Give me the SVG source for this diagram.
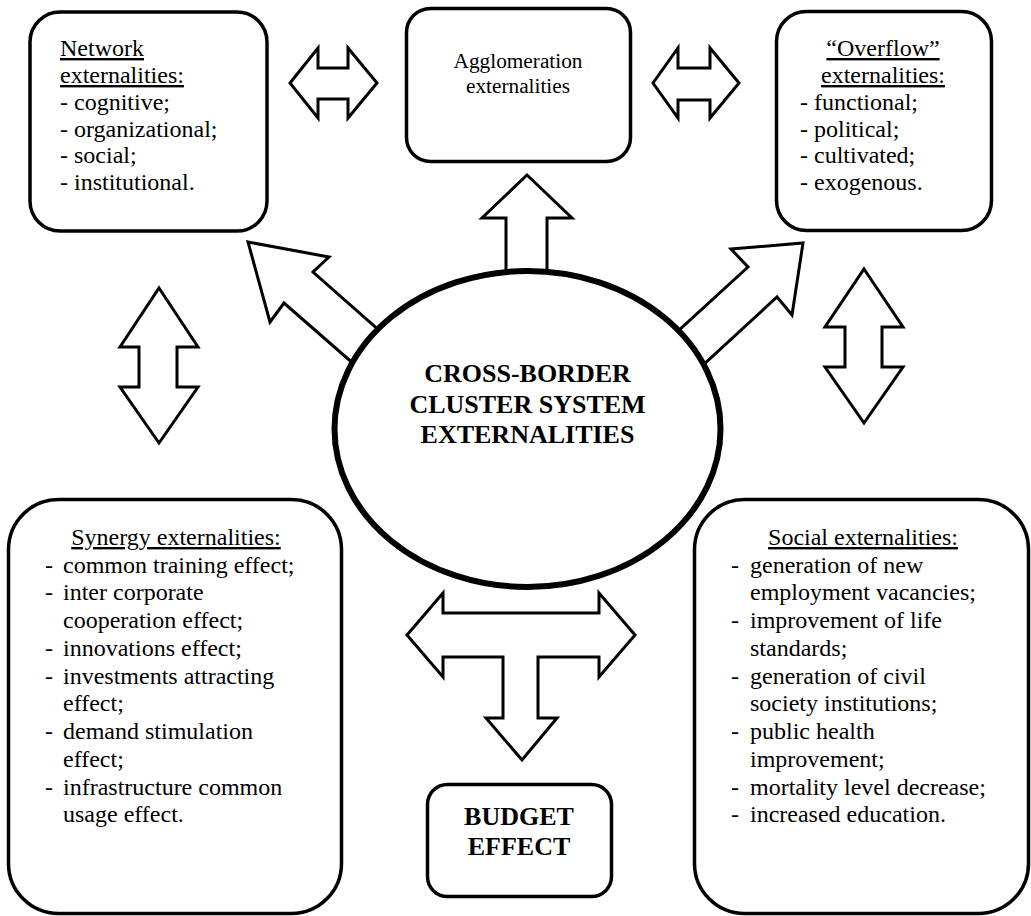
<svg xmlns="http://www.w3.org/2000/svg" width="1031" height="916" viewBox="0 0 1031 916">
<style>
text{font-family:"Liberation Serif","Times New Roman",serif;fill:#000}
.t{font-size:24px}
.a{font-size:21.3px}
.b{font-size:26px;font-weight:bold}
.u{text-decoration:underline}
.box{fill:#fff;stroke:#000;stroke-width:3.5}
.arr{fill:#fff;stroke:#000;stroke-width:3;stroke-linejoin:miter}
</style>
<rect width="1031" height="916" fill="#fff"/>
<g id="connectors">
<polygon class="arr" points="290,83 318,48 318,68 348,68 348,48 377,83 348,118 348,99 318,99 318,118"/>
<polygon class="arr" points="653,83 678,48 678,68 710,68 710,48 739,83 710,118 710,100 678,100 678,118"/>
<polygon class="arr" points="527,175 572,218 547,218 547,285 506,285 506,218 482,218"/>
<polygon class="arr" points="248,242 329,257 313,272 382,333 355,365 284,303 270,322"/>
<polygon class="arr" points="803,243 792,315 777,297 703,365 676,333 748,267 731,249"/>
<polygon class="arr" points="159,288 198,347 177,347 177,387 198,387 159,443 120,387 139,387 139,347 120,347"/>
<polygon class="arr" points="864,269 903,327 882,327 882,367 903,367 864,423 825,367 845,367 845,327 825,327"/>
<polygon class="arr" points="407,635 443,593 443,613 599,613 599,593 635,635 599,677 599,657 538,657 538,718 557,718 522,760 486,718 503,718 503,657 443,657 443,677"/>
</g>
<g id="center">
<ellipse cx="527.5" cy="429" rx="193" ry="158" fill="#fff" stroke="#000" stroke-width="6"/>
<text class="b" text-anchor="middle" x="527.5" y="382">CROSS-BORDER</text>
<text class="b" text-anchor="middle" x="527.5" y="413">CLUSTER SYSTEM</text>
<text class="b" text-anchor="middle" x="527.5" y="443">EXTERNALITIES</text>
</g>
<g id="network">
<rect class="box" x="30" y="12" width="237" height="219" rx="30"/>
<text class="t u" x="60" y="56">Network</text>
<text class="t u" x="60" y="83">externalities:</text>
<text class="t" x="60" y="110">- cognitive;</text>
<text class="t" x="60" y="137">- organizational;</text>
<text class="t" x="60" y="163">- social;</text>
<text class="t" x="60" y="190">- institutional.</text>
</g>
<g id="agglomeration">
<rect class="box" x="406.5" y="8.5" width="224" height="153" rx="24"/>
<text class="a" text-anchor="middle" x="518" y="68">Agglomeration</text>
<text class="a" text-anchor="middle" x="518" y="93">externalities</text>
</g>
<g id="overflow">
<rect class="box" x="776.5" y="11.5" width="215" height="219" rx="30"/>
<text class="t u" text-anchor="middle" x="883" y="56">“Overflow”</text>
<text class="t u" text-anchor="middle" x="883" y="83">externalities:</text>
<text class="t" x="800" y="110">- functional;</text>
<text class="t" x="800" y="137">- political;</text>
<text class="t" x="800" y="163">- cultivated;</text>
<text class="t" x="800" y="190">- exogenous.</text>
</g>
<g id="synergy">
<rect class="box" x="8.5" y="499.5" width="333" height="414" rx="50"/>
<text class="t u" text-anchor="middle" x="176" y="545">Synergy externalities:</text>
<g class="t">
<text class="t" x="45" y="573">-</text><text class="t" x="63" y="573">common training effect;</text>
<text class="t" x="45" y="600">-</text><text class="t" x="63" y="600">inter corporate</text>
<text class="t" x="63" y="628">cooperation effect;</text>
<text class="t" x="45" y="656">-</text><text class="t" x="63" y="656">innovations effect;</text>
<text class="t" x="45" y="684">-</text><text class="t" x="63" y="684">investments attracting</text>
<text class="t" x="63" y="711">effect;</text>
<text class="t" x="45" y="739">-</text><text class="t" x="63" y="739">demand stimulation</text>
<text class="t" x="63" y="767">effect;</text>
<text class="t" x="45" y="795">-</text><text class="t" x="63" y="795">infrastructure common</text>
<text class="t" x="63" y="822">usage effect.</text>
</g>
</g>
<g id="social">
<rect class="box" x="694.5" y="499.5" width="334" height="414" rx="50"/>
<text class="t u" text-anchor="middle" x="863" y="545">Social externalities:</text>
<text class="t" x="731" y="573">-</text><text class="t" x="750" y="573">generation of new</text>
<text class="t" x="750" y="600">employment vacancies;</text>
<text class="t" x="731" y="628">-</text><text class="t" x="750" y="628">improvement of life</text>
<text class="t" x="750" y="656">standards;</text>
<text class="t" x="731" y="684">-</text><text class="t" x="750" y="684">generation of civil</text>
<text class="t" x="750" y="711">society institutions;</text>
<text class="t" x="731" y="739">-</text><text class="t" x="750" y="739">public health</text>
<text class="t" x="750" y="767">improvement;</text>
<text class="t" x="731" y="795">-</text><text class="t" x="750" y="795">mortality level decrease;</text>
<text class="t" x="731" y="822">-</text><text class="t" x="750" y="822">increased education.</text>
</g>
<g id="budget">
<rect class="box" x="427.5" y="784.5" width="184" height="112" rx="20"/>
<text class="b" text-anchor="middle" x="519" y="825">BUDGET</text>
<text class="b" text-anchor="middle" x="519" y="855">EFFECT</text>
</g>
</svg>
